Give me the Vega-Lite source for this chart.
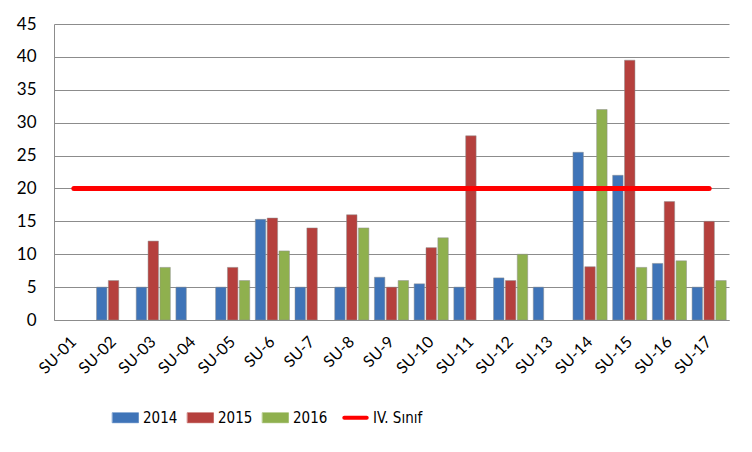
{
  "$schema": "https://vega.github.io/schema/vega-lite/v6.json",
  "autosize": {"type": "none"},
  "width": 675,
  "height": 296,
  "padding": {"left": 54, "top": 24, "right": 23, "bottom": 132},
  "background": "white",
  "config": {
    "view": {"stroke": null},
    "font": "Lato",
    "axis": {"labelFont": "Lato", "labelColor": "#000000", "domainColor": "#8C8C8C", "gridColor": "#8C8C8C", "ticks": false, "title": null}
  },
  "data": {"values": [
    {"site": "SU-02", "year": "2014", "value": 5},
    {"site": "SU-02", "year": "2015", "value": 6},
    {"site": "SU-03", "year": "2014", "value": 5},
    {"site": "SU-03", "year": "2015", "value": 12},
    {"site": "SU-03", "year": "2016", "value": 8},
    {"site": "SU-04", "year": "2014", "value": 5},
    {"site": "SU-05", "year": "2014", "value": 5},
    {"site": "SU-05", "year": "2015", "value": 8},
    {"site": "SU-05", "year": "2016", "value": 6},
    {"site": "SU-6", "year": "2014", "value": 15.3},
    {"site": "SU-6", "year": "2015", "value": 15.5},
    {"site": "SU-6", "year": "2016", "value": 10.5},
    {"site": "SU-7", "year": "2014", "value": 5},
    {"site": "SU-7", "year": "2015", "value": 14},
    {"site": "SU-8", "year": "2014", "value": 5},
    {"site": "SU-8", "year": "2015", "value": 16},
    {"site": "SU-8", "year": "2016", "value": 14},
    {"site": "SU-9", "year": "2014", "value": 6.5},
    {"site": "SU-9", "year": "2015", "value": 5},
    {"site": "SU-9", "year": "2016", "value": 6},
    {"site": "SU-10", "year": "2014", "value": 5.5},
    {"site": "SU-10", "year": "2015", "value": 11},
    {"site": "SU-10", "year": "2016", "value": 12.5},
    {"site": "SU-11", "year": "2014", "value": 5},
    {"site": "SU-11", "year": "2015", "value": 28},
    {"site": "SU-12", "year": "2014", "value": 6.4},
    {"site": "SU-12", "year": "2015", "value": 6},
    {"site": "SU-12", "year": "2016", "value": 10},
    {"site": "SU-13", "year": "2014", "value": 5},
    {"site": "SU-14", "year": "2014", "value": 25.5},
    {"site": "SU-14", "year": "2015", "value": 8.1},
    {"site": "SU-14", "year": "2016", "value": 32},
    {"site": "SU-15", "year": "2014", "value": 22},
    {"site": "SU-15", "year": "2015", "value": 39.5},
    {"site": "SU-15", "year": "2016", "value": 8},
    {"site": "SU-16", "year": "2014", "value": 8.6},
    {"site": "SU-16", "year": "2015", "value": 18},
    {"site": "SU-16", "year": "2016", "value": 9},
    {"site": "SU-17", "year": "2014", "value": 5},
    {"site": "SU-17", "year": "2015", "value": 15},
    {"site": "SU-17", "year": "2016", "value": 6}
  ]},
  "encoding": {
    "x": {"field": "site", "type": "nominal",
      "scale": {"domain": ["SU-01","SU-02","SU-03","SU-04","SU-05","SU-6","SU-7","SU-8","SU-9","SU-10","SU-11","SU-12","SU-13","SU-14","SU-15","SU-16","SU-17"], "paddingInner": 0.14, "paddingOuter": 0.07},
      "axis": {"labelAngle": -45, "labelAlign": "right", "labelBaseline": "middle", "labelFontSize": 16, "labelPadding": 19, "domainColor": "#8C8C8C"}},
    "y": {"field": "value", "type": "quantitative",
      "scale": {"domain": [0, 45], "nice": false},
      "axis": {"values": [0,5,10,15,20,25,30,35,40,45], "labelFontSize": 17, "labelPadding": 18, "grid": true}}
  },
  "layer": [
    {
      "mark": {"type": "bar", "stroke": "#8f8f8f", "strokeWidth": 0.5},
      "encoding": {
        "xOffset": {"field": "year", "type": "nominal", "scale": {"domain": ["2014","2015","2016"], "paddingInner": 0.12}},
        "color": {"field": "year", "type": "nominal",
          "scale": {"domain": ["2014","2015","2016","IV. Sınıf"], "range": ["#3F74B8", "#B5403D", "#8FB04E", "#FF0000"]},
          "legend": {
            "orient": "none", "legendX": 64, "legendY": 386, "direction": "horizontal", "columns": 4,
            "title": null, "labelFont": "DejaVu Sans Condensed", "labelFontSize": 15, "labelOffset": 10, "columnPadding": 8,
            "symbolSize": 784, "symbolStrokeWidth": 0.5,
            "encoding": {"symbols": {
              "shape": {"value": {"expr": "datum.value === 'IV. Sınıf' ? 'M-0.8,0H0.8' : 'M-0.93,-0.36H0.93V0.36H-0.93Z'"}},
              "fill": {"value": {"expr": "datum.value === 'IV. Sınıf' ? 'transparent' : scale('color', datum.value)"}},
              "stroke": {"value": {"expr": "datum.value === 'IV. Sınıf' ? '#FF0000' : '#6f6f6f'"}},
              "strokeWidth": {"value": {"expr": "datum.value === 'IV. Sınıf' ? 4 : 0.5"}},
              "strokeCap": {"value": "round"},
              "opacity": {"value": 1}
            }}
          }}
      }
    },
    {
      "data": {"values": [
        {"site": "SU-01", "value": 20, "series": "IV. Sınıf"},
        {"site": "SU-17", "value": 20, "series": "IV. Sınıf"}
      ]},
      "mark": {"type": "line", "strokeWidth": 5, "strokeCap": "round"},
      "encoding": {
        "color": {"field": "series", "type": "nominal"}
      }
    }
  ]
}
